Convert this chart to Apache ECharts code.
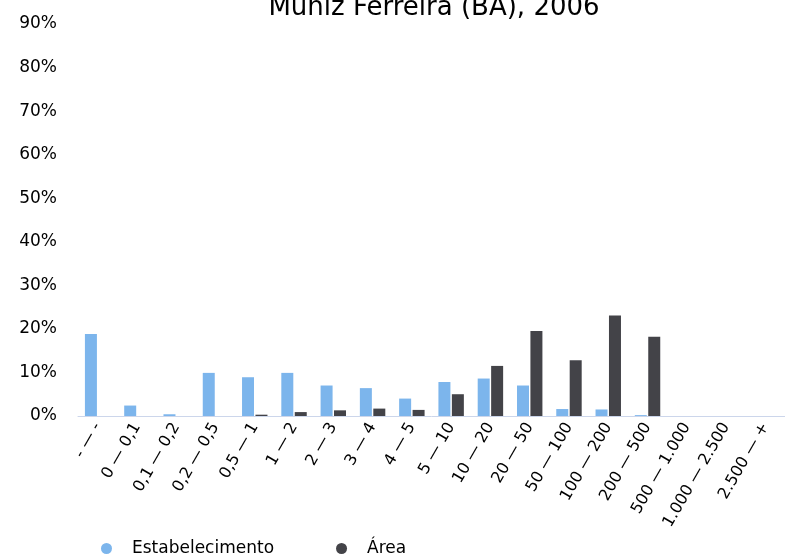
<!DOCTYPE html>
<html>
<head>
<meta charset="utf-8">
<script src="https://cdn.jsdelivr.net/npm/echarts@6/dist/echarts.min.js"></script>
<style>html,body{margin:0;padding:0;background:#fff;}#c{width:785px;height:555px;}</style>
</head>
<body>
<div id="c"></div>
<script>
const titleText = 'Muniz Ferreira (BA), 2006';
const categories = ['- — -','0 — 0,1','0,1 — 0,2','0,2 — 0,5','0,5 — 1','1 — 2','2 — 3','3 — 4','4 — 5','5 — 10','10 — 20','20 — 50','50 — 100','100 — 200','200 — 500','500 — 1.000','1.000 — 2.500','2.500 — +'];
const estabelecimento = [18.8, 2.4, 0.4, 9.9, 8.9, 9.9, 7.0, 6.4, 4.0, 7.8, 8.6, 7.0, 1.6, 1.5, 0.2, 0, 0, 0];
const area = [0, 0, 0, 0, 0.3, 0.9, 1.3, 1.7, 1.4, 5.0, 11.5, 19.5, 12.8, 23.1, 18.2, 0, 0, 0];
const seriesNames = ['Estabelecimento', 'Área'];
const colors = ['#7cb5ec', '#434348'];
const font = 'DejaVu Sans';

const chart = echarts.init(document.getElementById('c'));
chart.setOption({
  animation: false,
  color: colors,
  title: {
    text: titleText,
    left: 429,
    top: -10,
    textAlign: 'center',
    textStyle: { fontFamily: font, fontSize: 26, fontWeight: 'normal', color: '#000' }
  },
  legend: {
    data: seriesNames,
    left: 96,
    top: 535,
    icon: 'circle',
    itemWidth: 11,
    itemHeight: 11,
    itemGap: 62,
    textStyle: { fontFamily: font, fontSize: 17, color: '#000', padding: [0, 0, 0, 15] }
  },
  grid: { left: 78, right: -8, top: 24, bottom: 139, containLabel: false },
  xAxis: {
    type: 'category',
    data: categories,
    axisLine: { lineStyle: { color: '#ccd6eb' } },
    axisTick: { show: false },
    axisLabel: { rotate: 60, interval: 0, margin: 8, fontFamily: font, fontSize: 16, color: '#000' }
  },
  yAxis: {
    type: 'value',
    min: 0, max: 90, interval: 10,
    splitLine: { show: false },
    axisLine: { show: false },
    axisTick: { show: false },
    axisLabel: { formatter: '{value}%', margin: 21, fontFamily: font, fontSize: 17, color: '#000' }
  },
  series: [
    { name: seriesNames[0], type: 'bar', data: estabelecimento, barWidth: 12, barGap: '12%' },
    { name: seriesNames[1], type: 'bar', data: area, barWidth: 12, barGap: '12%' }
  ]
});
</script>
</body>
</html>
